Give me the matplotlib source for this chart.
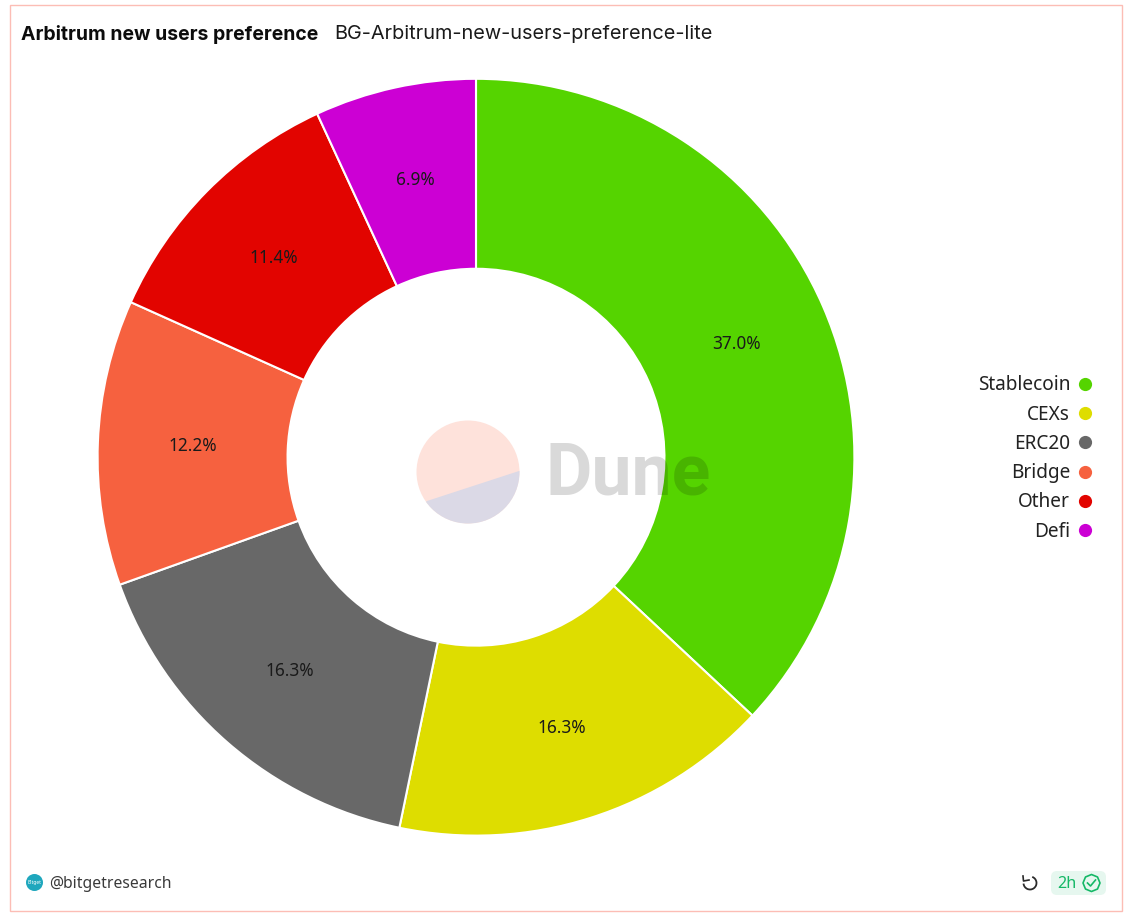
import matplotlib
matplotlib.use("Agg")
import matplotlib.pyplot as plt
from matplotlib.lines import Line2D
from matplotlib.patches import Rectangle, FancyBboxPatch, Circle, Arc, RegularPolygon, Polygon

categories = ["Stablecoin", "CEXs", "ERC20", "Bridge", "Other", "Defi"]
values = [37.0, 16.3, 16.3, 12.2, 11.4, 6.9]
colors = ["#55d400", "#dedd00", "#686868", "#f6613f", "#e20400", "#cc00d4"]
title = "Arbitrum new users preference"
subtitle = "BG-Arbitrum-new-users-preference-lite"
author = "@bitgetresearch"
age = "2h"

W, H = 1132, 922
fig = plt.figure(figsize=(W / 100, H / 100), dpi=100, facecolor="white")

# Donut
ax = fig.add_axes([97.6 / W, (H - 835.6) / H, 756.8 / W, 756.8 / H])
wedges, _, pct = ax.pie(
    values, colors=colors, startangle=90, counterclock=False,
    autopct="%.1f%%", pctdistance=0.75, radius=1,
    wedgeprops=dict(width=0.502, edgecolor="white", linewidth=1.5),
    textprops=dict(family="Noto Sans", fontsize=12.4, color="#1a1a1a"),
)
ax.set_xlim(-1, 1)
ax.set_ylim(-1, 1)
for w in wedges:
    w.set_clip_on(False)

# Overlay in pixel units for chrome
ov = fig.add_axes([0, 0, 1, 1], zorder=5)
ov.set_xlim(0, W)
ov.set_ylim(H, 0)
ov.axis("off")
ov.patch.set_alpha(0)

ov.add_patch(Rectangle((9.5, 5.5), 1112, 905, fill=False, edgecolor="#fcbdb5", linewidth=1.0))

ov.text(21, 34, title, family="Inter", fontweight="bold", fontsize=13.95, color="#0c0c0c", va="center")
ov.text(334.5, 34, subtitle, family="Inter", fontsize=14.35, color="#1a1a1a", va="center")

# Watermark
ov.add_patch(Circle((468, 472), 51.5, facecolor="#fee2db", edgecolor="none"))
lower = ov.add_patch(Circle((468, 472), 51.5, facecolor="#dbd9e6", edgecolor="none"))
chord = Polygon([(397, 524), (427, 501), (519, 471), (550, 461), (550, 540), (397, 540)],
                closed=True, transform=ov.transData, facecolor="none", edgecolor="none")
lower.set_clip_path(chord)
ov.text(546, 475, "Dune", family="Roboto", fontweight="bold", fontsize=51.5, color="#000000", alpha=0.15, va="center")

# Footer
ov.add_patch(Circle((34.5, 882.5), 8.5, facecolor="#1fa7bd", edgecolor="none"))
ov.text(34.5, 882, "Bitget", family="Noto Sans", fontsize=3.5, color="white", ha="center", va="center")
ov.text(49, 884, author, family="Noto Sans", fontsize=11.3, color="#3a3a3a", va="center")

ov.add_patch(Arc((1030, 883), 13, 13, angle=0, theta1=-70, theta2=175, color="#2a2a2a", linewidth=1.3))
ov.add_line(Line2D([1023, 1023.5, 1029], [876, 881, 880], color="#2a2a2a", linewidth=1.2))
ov.add_patch(FancyBboxPatch((1051, 871), 55, 24, boxstyle="round,pad=0,rounding_size=6",
                            facecolor="#e6f7ef", edgecolor="none"))
ov.text(1057, 884, age, family="Noto Sans", fontsize=11.6, color="#14b866", va="center")
ov.add_patch(RegularPolygon((1091.5, 883), 8, radius=8.5, facecolor="none", edgecolor="#14b866",
                            linewidth=1.2, joinstyle="round"))
ov.add_line(Line2D([1087.5, 1090.5, 1095.5], [883, 886, 880], color="#14b866", linewidth=1.2))

# Legend
handles = [Line2D([], [], linestyle="none", marker="o", markersize=9.5, markerfacecolor=c,
                  markeredgecolor="none") for c in colors]
leg = ov.legend(handles, categories, loc="center right", bbox_to_anchor=(1094 / W, (H - 458.5) / H),
                frameon=False, markerfirst=False, handlelength=0.95, handletextpad=0.3,
                labelspacing=0.49, borderpad=0, borderaxespad=0,
                prop=dict(family="Noto Sans", size=13.7), labelcolor="#222222")

fig.savefig("out.png", dpi=100)
